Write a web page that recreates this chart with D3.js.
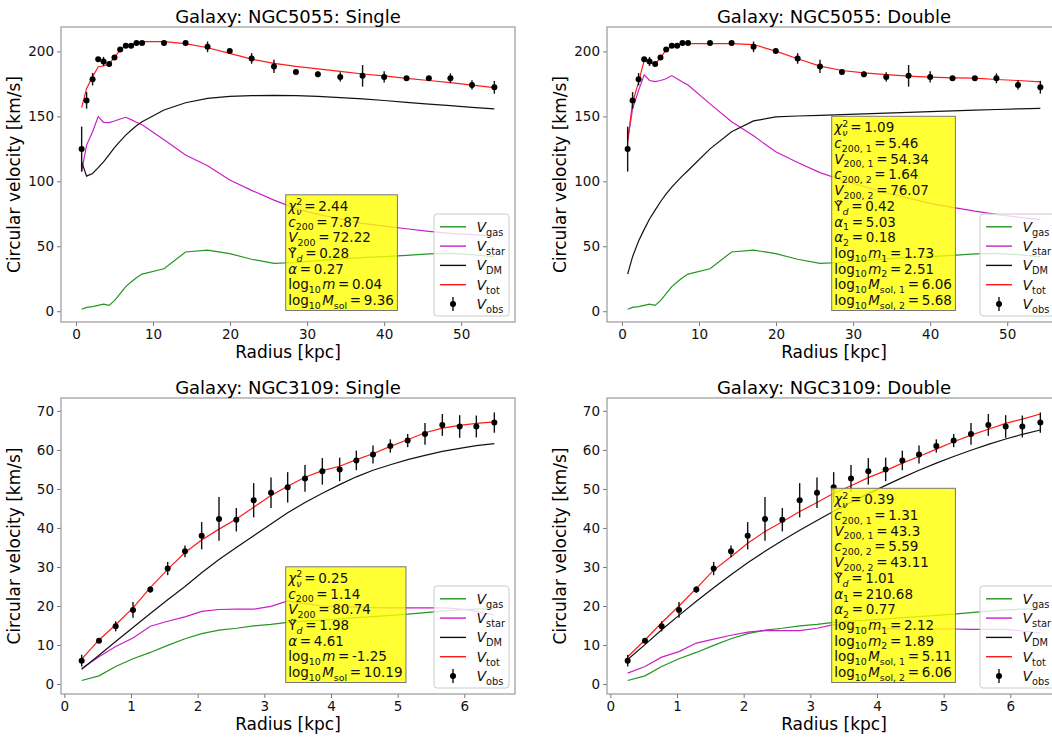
<!DOCTYPE html>
<html>
<head>
  <meta charset="utf-8">
  <title>Rotation curves</title>
  <script src="https://d3js.org/d3.v7.min.js"></script>
  <style>
    body { margin: 0; background: #fff; }
    svg { display: block; font-family: "DejaVu Sans", sans-serif; }
  </style>
</head>
<body>
<script>
  // ---- NGC5055 (radius in kpc, velocities in km/s) ----
  const radiusN5055 = [0.74, 1.38, 2.16, 2.89, 3.58, 4.31, 5.0, 5.74, 6.47, 7.16, 7.85, 8.58, 11.43, 14.23,
    17.08, 19.96, 22.8, 25.7, 28.55, 31.4, 34.3, 37.2, 40.0, 42.9, 45.8, 48.6, 51.4, 54.3];
  const vobsN5055 = [124.8, 162.3, 178.6, 194, 192.3, 190.4, 195.3, 201.5, 204.3, 204.3, 206.5, 206.5, 206.4, 206.4,
    203.5, 200.4, 194.6, 188.4, 184.2, 182.4, 180.4, 181.2, 180.4, 179.3, 179.3, 179.3, 174.2, 172.4];
  const errN5055 = [17.3, 6.4, 4.8, 1.5, 3.5, 1.5, 1.5, 1.5, 1.5, 1.5, 1.5, 1.5, 1.5, 1.5,
    4.1, 1.5, 4.1, 5.1, 1.5, 2.2, 3.5, 8.3, 4.4, 1.5, 1.5, 3.8, 3.6, 4.9];
  const gasN5055 = [1.5, 3.0, 3.5, 4.5, 5.5, 4.5, 8.1, 13.5, 18.9, 22.5, 25.8, 28.6, 32.7, 45.6,
    47.1, 44.3, 40.0, 36.9, 37.5, 39.0, 40.3, 41.2, 42.0, 43.0, 44.2, 44.5, 43.5, 42.0];
  const starN5055Single = [107.4, 127.9, 138.2, 149.8, 145.4, 145.2, 146.4, 148, 149.3, 147.5, 145.5, 143.5, 132, 120.2,
    112, 101, 93, 85.5, 79, 74.5, 71, 67.6, 65.5, 63.5, 61.5, 60, 59, 57.8];
  const dmN5055Single = [115, 104, 106, 110.5, 115, 120.5, 126, 131, 135.6, 139.3, 142.8, 145.9, 154.9, 160.5,
    163.9, 165.4, 166, 166.2, 166, 165.4, 164.5, 163.4, 162.2, 160.8, 159.5, 158.2, 157, 155.7];
  const totN5055Single = [156.8, 171.5, 180.5, 188.2, 188.8, 190.7, 195.4, 201.1, 204.3, 205.1, 206.9, 207.6, 207.6, 206,
    202.8, 198.5, 194.1, 190.8, 188.5, 186.6, 184.6, 182.6, 181.1, 179.3, 177.6, 176, 174, 172.1];
  const starN5055Double = [131, 156, 170, 182, 177.6, 176.7, 177.6, 179, 181.4, 179, 176.5, 174.2, 159.6, 145.9,
    135, 122.7, 114.5, 106.7, 101, 96, 91, 87, 83, 80, 77, 74.5, 72.5, 70.5];
  const dmN5055Double = [28.6, 42, 54, 63, 71, 77.8, 84.3, 90.3, 95.6, 100, 104.2, 108.3, 125, 138.2,
    146.5, 149.6, 150.3, 150.7, 151.3, 151.9, 152.5, 153.1, 153.7, 154.3, 154.8, 155.3, 155.8, 156.2];
  const totN5055Double = [131.2, 160.8, 176.3, 193.3, 191.3, 190.5, 195, 201.3, 204, 204.6, 205.9, 206, 206, 206,
    205.3, 200.2, 194.4, 188.7, 185.3, 183.5, 182.2, 181, 180.2, 179.7, 179.4, 178.4, 177.6, 176.6];

  // ---- NGC3109 ----
  const radiusN3109 = [0.26, 0.52, 0.77, 1.03, 1.29, 1.55, 1.81, 2.06, 2.32, 2.58, 2.84, 3.10, 3.35,
    3.61, 3.87, 4.13, 4.38, 4.63, 4.89, 5.15, 5.41, 5.67, 5.93, 6.18, 6.45];
  const vobsN3109 = [6.0, 11.1, 14.8, 19.0, 24.2, 29.6, 34.0, 38.0, 42.3, 42.1, 47.1, 49.0, 50.4,
    52.7, 54.5, 55.0, 57.3, 58.8, 61.0, 62.4, 64.1, 66.4, 66.0, 66.0, 67.0];
  const errN3109 = [1.5, 0.5, 1.3, 2.0, 0.8, 1.7, 1.5, 3.5, 5.6, 3.0, 4.4, 3.9, 3.9,
    3.4, 3.4, 3.0, 2.5, 2.3, 1.7, 1.7, 2.8, 2.8, 2.9, 2.8, 2.6];
  const gasN3109 = [0.9, 2.1, 4.5, 6.5, 8.1, 9.9, 11.6, 12.9, 13.8, 14.3, 14.9, 15.3, 15.8,
    16.1, 16.4, 16.7, 17.0, 17.3, 17.6, 17.9, 18.3, 18.7, 19.0, 19.2, 19.3];
  const starN3109Single = [4.0, 7.0, 9.6, 11.8, 14.8, 16.1, 17.2, 18.6, 19.1, 19.2, 19.2, 19.9, 21.3,
    20.6, 20.0, 19.8, 19.7, 19.6, 19.5, 19.5, 19.5, 19.5, 19.3, 18.6, 17.7];
  const dmN3109Single = [3.8, 7.4, 10.9, 14.5, 18.1, 21.6, 25.0, 28.5, 31.9, 35.0, 38.0, 41.0, 43.9,
    46.5, 48.9, 51.1, 53.1, 54.8, 56.2, 57.5, 58.6, 59.6, 60.4, 61.1, 61.6];
  const totN3109Single = [6.4, 11.3, 15.2, 19.5, 24.7, 29.4, 33.7, 36.9, 39.7, 42.3, 45.3, 48.3, 50.7,
    53.0, 54.7, 55.8, 57.5, 59.0, 60.9, 62.6, 64.4, 65.6, 66.3, 66.8, 67.2];
  const starN3109Double = [2.8, 4.5, 6.9, 8.3, 10.5, 11.5, 12.5, 13.3, 13.7, 13.7, 13.7, 14.3, 15.2,
    14.6, 14.3, 14.2, 14.1, 14.1, 14.1, 14.1, 14.0, 14.0, 14.0, 13.6, 13.1];
  const dmN3109Double = [6.3, 10.1, 13.9, 17.6, 21.2, 24.7, 28.0, 31.1, 34.0, 36.8, 39.4, 41.9, 44.3,
    46.6, 48.8, 50.9, 52.9, 54.8, 56.6, 58.3, 59.9, 61.4, 62.8, 64.0, 65.1];
  const totN3109Double = [7.0, 11.3, 15.7, 20.0, 24.5, 29.2, 32.6, 36.1, 39.1, 41.6, 44.2, 46.5, 48.9,
    50.8, 52.9, 54.7, 56.6, 58.3, 60.2, 62.1, 63.8, 65.3, 66.8, 67.9, 69.2];

  // fit results shown in the yellow boxes
  const fitN5055Single = ["2.44", "7.87", "72.22", "0.28", "0.27", "0.04", "9.36"];
  const fitN5055Double = ["1.09", "5.46", "54.34", "1.64", "76.07", "0.42", "5.03", "0.18", "1.73", "2.51", "6.06", "5.68"];
  const fitN3109Single = ["0.25", "1.14", "80.74", "1.98", "4.61", "-1.25", "10.19"];
  const fitN3109Double = ["0.39", "1.31", "43.3", "5.59", "43.11", "1.01", "210.68", "0.77", "2.12", "1.89", "5.11", "6.06"];

  // tick values
  const xTicksN5055 = [0, 10, 20, 30, 40, 50];
  const yTicksN5055 = [0, 50, 100, 150, 200];
  const xTicksN3109 = [0, 1, 2, 3, 4, 5, 6];
  const yTicksN3109 = [0, 10, 20, 30, 40, 50, 60, 70];

  const legendNames = ["gas", "star", "DM", "tot", "obs"];
  const colors = { gas: "#239623", star: "#c81fc8", DM: "#111", tot: "#ff1a1a", obs: "#000" };

  const width = 1052, height = 737;
  const axW = 454;

  const svg = d3.select("body").append("svg")
    .attr("width", width)
    .attr("height", height);

  svg.append("rect").attr("width", width).attr("height", height).attr("fill", "#fff");

  // math-ish text: parts are [text, kind, dx]
  function mathText(sel, parts, size) {
    let shift = 0;
    parts.forEach(p => {
      const [t, k, dx] = p;
      const ts = sel.append("tspan").text(t);
      let target = 0;
      if (k === "sub" || k === "subi") target = size * 0.28;
      if (k === "sup") target = -size * 0.42;
      ts.attr("dy", target - shift);
      shift = target;
      if (k === "sub" || k === "subi" || k === "sup") ts.attr("font-size", size * 0.7);
      if (k === "i" || k === "subi") ts.attr("font-style", "italic");
      if (dx) ts.attr("dx", dx);
    });
  }

  const eq = s => ["\u2009=\u2009" + s, "r"];

  function singleLines(v) {
    return [
      [["χ", "i"], ["2", "sup"], ["ν", "subi", -6], eq(v[0])],
      [["c", "i"], ["200", "sub"], eq(v[1])],
      [["V", "i"], ["200", "sub"], eq(v[2])],
      [["Υ̃", "r"], ["d", "subi"], eq(v[3])],
      [["α", "i"], eq(v[4])],
      [["log", "r"], ["10", "sub"], ["\u200am", "i"], eq(v[5])],
      [["log", "r"], ["10", "sub"], ["\u200aM", "i"], ["sol", "sub"], eq(v[6])]
    ];
  }

  function doubleLines(v) {
    return [
      [["χ", "i"], ["2", "sup"], ["ν", "subi", -6], eq(v[0])],
      [["c", "i"], ["200, 1", "sub"], eq(v[1])],
      [["V", "i"], ["200, 1", "sub"], eq(v[2])],
      [["c", "i"], ["200, 2", "sub"], eq(v[3])],
      [["V", "i"], ["200, 2", "sub"], eq(v[4])],
      [["Υ̃", "r"], ["d", "subi"], eq(v[5])],
      [["α", "i"], ["1", "sub"], eq(v[6])],
      [["α", "i"], ["2", "sub"], eq(v[7])],
      [["log", "r"], ["10", "sub"], ["\u200am", "i"], ["1", "sub"], eq(v[8])],
      [["log", "r"], ["10", "sub"], ["\u200am", "i"], ["2", "sub"], eq(v[9])],
      [["log", "r"], ["10", "sub"], ["\u200aM", "i"], ["sol, 1", "sub"], eq(v[10])],
      [["log", "r"], ["10", "sub"], ["\u200aM", "i"], ["sol, 2", "sub"], eq(v[11])]
    ];
  }

  function drawPanel(p) {
    const left = p.left, top = p.top, bottom = p.bottom;
    const x = d3.scaleLinear().domain(p.xDomain).range([left, left + axW]);
    const y = d3.scaleLinear().domain(p.yDomain).range([bottom, top]);
    const g = svg.append("g");

    // axes
    const xAxis = g.append("g")
      .attr("transform", "translate(0," + bottom + ")")
      .call(d3.axisBottom(x).tickValues(p.xTicks).tickSize(4).tickPadding(3).tickFormat(d3.format("d")));
    const yAxis = g.append("g")
      .attr("transform", "translate(" + left + ",0)")
      .call(d3.axisLeft(y).tickValues(p.yTicks).tickSize(4).tickPadding(3).tickFormat(d3.format("d")));
    [xAxis, yAxis].forEach(a => {
      a.select(".domain").remove();
      a.selectAll(".tick line").attr("stroke", "#777");
      a.selectAll(".tick text").attr("font-size", 13.5).attr("fill", "#111")
        .attr("font-family", "DejaVu Sans");
    });

    g.append("rect")
      .attr("x", left).attr("y", top)
      .attr("width", axW).attr("height", bottom - top)
      .attr("fill", "none").attr("stroke", "#999").attr("stroke-width", 1.2);

    const line = d3.line().x(d => x(d[0])).y(d => y(d[1]));
    const series = [
      ["gas", p.gas], ["star", p.star], ["DM", p.dm], ["tot", p.tot]
    ];
    series.forEach(([name, vals]) => {
      g.append("path")
        .datum(p.radius.map((r, i) => [r, vals[i]]))
        .attr("d", line)
        .attr("fill", "none")
        .attr("stroke", colors[name])
        .attr("stroke-width", 1.2);
    });

    // observed points with error bars
    const obs = g.append("g");
    obs.selectAll("line")
      .data(p.radius)
      .enter().append("line")
      .attr("x1", d => x(d)).attr("x2", d => x(d))
      .attr("y1", (d, i) => y(p.vobs[i] - p.err[i]))
      .attr("y2", (d, i) => y(p.vobs[i] + p.err[i]))
      .attr("stroke", "#111").attr("stroke-width", 1.4);
    obs.selectAll("circle")
      .data(p.radius)
      .enter().append("circle")
      .attr("cx", d => x(d))
      .attr("cy", (d, i) => y(p.vobs[i]))
      .attr("r", 3)
      .attr("fill", "#000");

    // title and labels
    g.append("text")
      .attr("x", left + axW / 2).attr("y", top - 4)
      .attr("text-anchor", "middle").attr("font-size", 18)
      .text(p.title);
    g.append("text")
      .attr("x", left + axW / 2).attr("y", bottom + 36)
      .attr("text-anchor", "middle").attr("font-size", 17)
      .text("Radius [kpc]");
    g.append("text")
      .attr("transform", "translate(" + (left - 41) + "," + ((top + bottom) / 2) + ") rotate(-90)")
      .attr("text-anchor", "middle").attr("font-size", 17)
      .text("Circular velocity [km/s]");

    // fit box
    const lines = p.lines;
    const lh = 15.7, fs = 13.5;
    const lastBase = bottom - 17;
    const firstBase = lastBase - (lines.length - 1) * lh;
    const boxLeft = left + 224.7;
    const boxG = g.append("g");
    const boxRect = boxG.append("rect");
    const txt = boxG.append("g");
    lines.forEach((parts, i) => {
      const t = txt.append("text")
        .attr("x", boxLeft + 2.5)
        .attr("y", firstBase + i * lh)
        .attr("font-size", fs)
        .attr("fill", "#111");
      mathText(t, parts, fs);
    });
    const bb = txt.node().getBBox();
    boxRect
      .attr("x", boxLeft).attr("y", firstBase - 16)
      .attr("width", bb.width + 5)
      .attr("height", lastBase + 5.5 - (firstBase - 16))
      .attr("fill", "yellow").attr("fill-opacity", 0.8)
      .attr("stroke", "#777").attr("stroke-width", 1);

    // legend
    const legLeft = left + 373, legBottom = bottom - 6;
    const legG = g.append("g");
    legG.append("rect")
      .attr("x", legLeft).attr("y", legBottom - 102)
      .attr("width", 75).attr("height", 102)
      .attr("rx", 3)
      .attr("fill", "#fff").attr("fill-opacity", 0.8)
      .attr("stroke", "#ccc");
    legendNames.forEach((name, i) => {
      const cy = legBottom - 12 - (legendNames.length - 1 - i) * 19.3;
      if (name === "obs") {
        legG.append("line")
          .attr("x1", legLeft + 19).attr("x2", legLeft + 19)
          .attr("y1", cy - 7).attr("y2", cy + 7)
          .attr("stroke", "#111").attr("stroke-width", 1.4);
        legG.append("circle").attr("cx", legLeft + 19).attr("cy", cy).attr("r", 3).attr("fill", "#000");
      } else {
        legG.append("line")
          .attr("x1", legLeft + 6).attr("x2", legLeft + 32)
          .attr("y1", cy).attr("y2", cy)
          .attr("stroke", colors[name]).attr("stroke-width", 1.4);
      }
      const t = legG.append("text")
        .attr("x", legLeft + 42.5).attr("y", cy + 5)
        .attr("font-size", 14).attr("fill", "#111");
      mathText(t, [["V", "i"], [name, "sub"]], 14);
    });
  }

  const topDomainX = [-1.94, 56.98], topDomainY = [-8.3, 218.8];
  const botDomainX = [-0.05, 6.76], botDomainY = [-2.55, 73.3];

  drawPanel({
    left: 61, top: 27, bottom: 322, title: "Galaxy: NGC5055: Single",
    xDomain: topDomainX, yDomain: topDomainY, xTicks: xTicksN5055, yTicks: yTicksN5055,
    radius: radiusN5055, vobs: vobsN5055, err: errN5055,
    gas: gasN5055, star: starN5055Single, dm: dmN5055Single, tot: totN5055Single,
    lines: singleLines(fitN5055Single)
  });
  drawPanel({
    left: 607, top: 27, bottom: 322, title: "Galaxy: NGC5055: Double",
    xDomain: topDomainX, yDomain: topDomainY, xTicks: xTicksN5055, yTicks: yTicksN5055,
    radius: radiusN5055, vobs: vobsN5055, err: errN5055,
    gas: gasN5055, star: starN5055Double, dm: dmN5055Double, tot: totN5055Double,
    lines: doubleLines(fitN5055Double)
  });
  drawPanel({
    left: 61, top: 398, bottom: 694, title: "Galaxy: NGC3109: Single",
    xDomain: botDomainX, yDomain: botDomainY, xTicks: xTicksN3109, yTicks: yTicksN3109,
    radius: radiusN3109, vobs: vobsN3109, err: errN3109,
    gas: gasN3109, star: starN3109Single, dm: dmN3109Single, tot: totN3109Single,
    lines: singleLines(fitN3109Single)
  });
  drawPanel({
    left: 607, top: 398, bottom: 694, title: "Galaxy: NGC3109: Double",
    xDomain: botDomainX, yDomain: botDomainY, xTicks: xTicksN3109, yTicks: yTicksN3109,
    radius: radiusN3109, vobs: vobsN3109, err: errN3109,
    gas: gasN3109, star: starN3109Double, dm: dmN3109Double, tot: totN3109Double,
    lines: doubleLines(fitN3109Double)
  });
</script>
</body>
</html>
